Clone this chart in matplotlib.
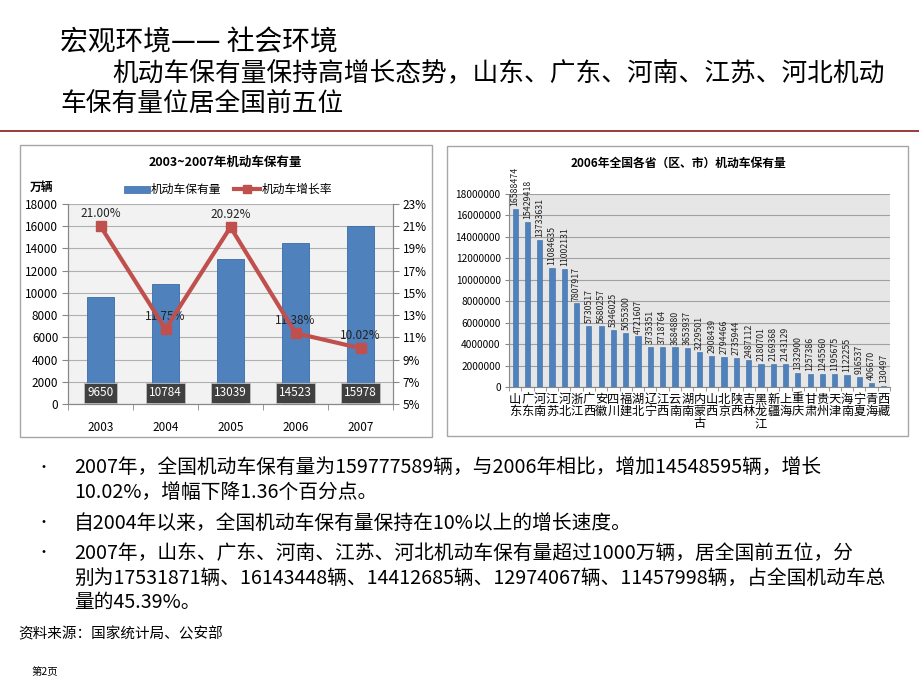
import matplotlib
matplotlib.use("Agg")
import matplotlib.pyplot as plt
from matplotlib.patches import Rectangle
from matplotlib.lines import Line2D
from matplotlib.ticker import FuncFormatter
import numpy as np

plt.rcParams['font.family'] = ['Noto Sans CJK SC', 'DejaVu Sans']

# 数据
years = ["2003", "2004", "2005", "2006", "2007"]
stock = [9650, 10784, 13039, 14523, 15978]
growth = [21.00, 11.75, 20.92, 11.38, 10.02]

provinces = ["山东", "广东", "河南", "江苏", "河北", "浙江", "广西", "安徽", "四川", "福建",
             "湖北", "辽宁", "江西", "云南", "湖南", "内蒙古", "山西", "北京", "陕西", "吉林",
             "黑龙江", "新疆", "上海", "重庆", "甘肃", "贵州", "天津", "海南", "宁夏", "青海", "西藏"]
prov_stock = [16588474, 15429418, 13733631, 11084635, 11002131, 7807917, 5730517, 5680257,
              5346025, 5055300, 4721607, 3735351, 3718764, 3684880, 3653937, 3229501, 2908439,
              2794466, 2735944, 2487112, 2180701, 2169368, 2143129, 1332900, 1257386, 1245560,
              1195675, 1122255, 916537, 406670, 130497]

W, H = 920, 690
BLUE = "#4F81BD"
RED = "#C0504D"

fig = plt.figure(figsize=(9.2, 6.9), dpi=100)


def rect(x0, y0, x1, y1):
    # 像素坐标 (左上为原点) -> figure 比例
    return [x0 / W, 1 - y1 / H, (x1 - x0) / W, (y1 - y0) / H]


def ftext(x, y, s, **kw):
    fig.text(x / W, 1 - y / H, s, **kw)


# 标题
ftext(60, 42, "宏观环境—— 社会环境", fontsize=20, va="center", ha="left", fontweight="medium")
ftext(112, 74, "机动车保有量保持高增长态势，山东、广东、河南、江苏、河北机动",
      fontsize=18.5, va="center", ha="left", fontweight="medium")
ftext(60, 104, "车保有量位居全国前五位", fontsize=18.5, va="center", ha="left", fontweight="medium")
fig.add_artist(Line2D([0, 1], [1 - 131 / H, 1 - 131 / H], color="#8B1A1A", lw=1.2))

# 图框
for (x0, y0, x1, y1) in [(20, 145, 432, 437), (447, 146, 908, 436)]:
    fig.add_artist(Rectangle((x0 / W, 1 - y1 / H), (x1 - x0) / W, (y1 - y0) / H,
                             fill=False, ec="#A6A6A6", lw=1.0))

# 左图
ax = fig.add_axes(rect(68, 204, 393, 404))
ax.set_facecolor("#F2F2F2")
x = np.arange(len(years))
ax.bar(x, stock, width=0.42, color=BLUE, edgecolor="#3A6BA5", lw=0.6, zorder=3)
ax.set_xlim(-0.5, 4.5)
ax.set_ylim(0, 18000)
ax.set_yticks(range(0, 18001, 2000))
ax.set_xticks(x)
ax.set_xticklabels(years, fontsize=8.5)
ax.tick_params(axis="x", length=0, pad=12)
ax.set_xticks(np.arange(-0.5, 5, 1), minor=True)
ax.tick_params(axis="x", which="minor", length=4, color="#888888")
ax.tick_params(axis="y", labelsize=8.5, length=4, color="#888888", pad=3)
ax.grid(axis="y", color="#B0B0B0", lw=0.8, zorder=0)
ax.spines["top"].set_visible(False)
for sp in ["left", "bottom", "right"]:
    ax.spines[sp].set_color("#888888")
for xi, v in zip(x, stock):
    ax.text(xi, 1000, str(v), ha="center", va="center", fontsize=8.5, color="white", zorder=5,
            bbox=dict(boxstyle="square,pad=0.3", fc="#404040", ec="#BFBFBF", lw=0.6))

ax2 = ax.twinx()
ax2.plot(x, growth, color=RED, lw=3, marker="s", ms=7, zorder=4)
ax2.set_ylim(5, 23)
ax2.set_yticks(range(5, 24, 2))
ax2.set_yticklabels([f"{t}%" for t in range(5, 24, 2)])
ax2.tick_params(axis="y", labelsize=8.5, length=4, color="#888888", pad=3)
ax2.spines["top"].set_visible(False)
for sp in ["left", "bottom", "right"]:
    ax2.spines[sp].set_color("#888888")
for xi, g in zip(x, growth):
    ax2.text(xi, g + 0.55, f"{g:.2f}%", ha="center", va="bottom", fontsize=8.5, color="#222222")

ftext(225, 162, "2003~2007年机动车保有量", fontsize=9, fontweight="bold", ha="center", va="center")
ftext(30, 187, "万辆", fontsize=8.5, fontweight="bold", ha="left", va="center")
fig.add_artist(Rectangle((124 / W, 1 - 193 / H), 26 / W, 7 / H, fc=BLUE, ec="#3A6BA5", lw=0.5))
ftext(151, 189, "机动车保有量", fontsize=8.5, ha="left", va="center")
fig.add_artist(Line2D([234 / W, 247 / W, 260 / W], [1 - 189 / H] * 3, color=RED, lw=3,
                      marker="s", markevery=[1], markersize=6))
ftext(262, 189, "机动车增长率", fontsize=8.5, ha="left", va="center")

# 右图
bx = fig.add_axes(rect(509, 194, 890, 387))
bx.set_facecolor("#E6E6E6")
px = np.arange(len(provinces))
bx.bar(px, prov_stock, width=0.42, color=BLUE, edgecolor="#3A6BA5", lw=0.4, zorder=3)
bx.set_xlim(-0.5, len(provinces) - 0.5)
bx.set_ylim(0, 18000000)
bx.set_yticks(range(0, 18000001, 2000000))
bx.yaxis.set_major_formatter(FuncFormatter(lambda v, p: f"{int(v)}"))
bx.tick_params(axis="y", labelsize=7.3, length=3, color="#888888", pad=3)
bx.set_xticks(px)
bx.set_xticklabels(["\n".join(p) for p in provinces], fontsize=8.8, linespacing=0.92)
bx.tick_params(axis="x", length=0, pad=4)
bx.set_xticks(np.arange(-0.5, len(provinces), 1), minor=True)
bx.tick_params(axis="x", which="minor", length=3, color="#888888")
bx.grid(axis="y", color="#A0A0A0", lw=0.8, zorder=0)
for sp in ["top", "right"]:
    bx.spines[sp].set_visible(False)
for sp in ["left", "bottom"]:
    bx.spines[sp].set_color("#888888")
for xi, v in zip(px, prov_stock):
    bx.text(xi, v + 250000, str(v), rotation=90, ha="center", va="bottom", fontsize=6.3,
            color="#222222", zorder=5)
ftext(678, 163, "2006年全国各省（区、市）机动车保有量", fontsize=8.5, fontweight="bold",
      ha="center", va="center")

# 正文
bullets = [
    (468, "•", "2007年，全国机动车保有量为159777589辆，与2006年相比，增加14548595辆，增长"),
    (493, None, "10.02%，增幅下降1.36个百分点。"),
    (523, "•", "自2004年以来，全国机动车保有量保持在10%以上的增长速度。"),
    (553, "•", "2007年，山东、广东、河南、江苏、河北机动车保有量超过1000万辆，居全国前五位，分"),
    (578, None, "别为17531871辆、16143448辆、14412685辆、12974067辆、11457998辆，占全国机动车总"),
    (602, None, "量的45.39%。"),
]
for y, b, s in bullets:
    if b:
        ftext(44, y, b, fontsize=10, ha="center", va="center")
    ftext(74, y, s, fontsize=14.2, ha="left", va="center")

ftext(18, 634, "资料来源：国家统计局、公安部", fontsize=10.5, ha="left", va="center")
ftext(32, 672, "第2页", fontsize=7.5, ha="left", va="center")

fig.savefig("out.png", dpi=100)
